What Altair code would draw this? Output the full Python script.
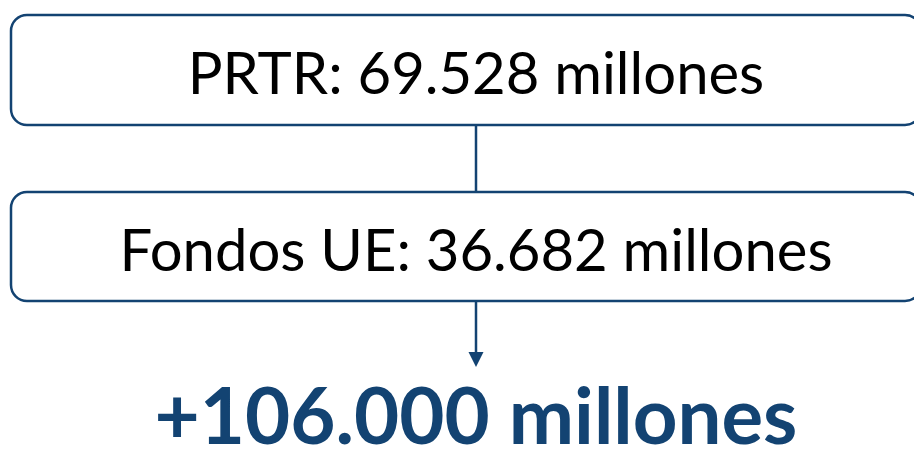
import altair as alt
import pandas as pd

# Content
box_labels = ["PRTR: 69.528 millones", "Fondos UE: 36.682 millones"]
total_label = "+106.000 millones"

# Layout (page pixel coordinates)
box_left = [11, 11]
box_right = [921, 921]
box_top = [15, 192]
box_bottom = [125, 301]
label_y = [94, 271]
center_x = 476
total_y = 444
arrow_tip_y = 359.5

BLUE = "#134372"
FONT = "Lato"

xs = alt.Scale(domain=[8, 914], nice=False, zero=False)
ys = alt.Scale(domain=[8, 447], nice=False, zero=False, reverse=True)

boxes = pd.DataFrame({
    "x": box_left, "x2": box_right, "y": box_top, "y2": box_bottom,
    "label": box_labels, "ly": label_y, "cx": [center_x] * 2,
})

connector = pd.DataFrame({"x": [center_x, center_x], "y": [box_bottom[0], box_bottom[1]],
                          "y2": [box_top[1], arrow_tip_y - 4]})
arrow = pd.DataFrame({"x": [center_x], "y": [arrow_tip_y]})
total = pd.DataFrame({"x": [center_x], "y": [total_y], "label": [total_label]})

rules = alt.Chart(connector).mark_rule(color=BLUE, strokeWidth=2.5).encode(
    x=alt.X("x:Q", scale=xs, axis=None),
    y=alt.Y("y:Q", scale=ys, axis=None),
    y2="y2:Q",
)

rects = alt.Chart(boxes).mark_rect(
    cornerRadius=16, fill="white", stroke=BLUE, strokeWidth=2.5, clip=True
).encode(
    x=alt.X("x:Q", scale=xs, axis=None), x2="x2:Q",
    y=alt.Y("y:Q", scale=ys, axis=None), y2="y2:Q",
)

labels = alt.Chart(boxes).mark_text(
    font=FONT, fontSize=58, baseline="alphabetic", align="center", color="black"
).encode(
    x=alt.X("cx:Q", scale=xs, axis=None),
    y=alt.Y("ly:Q", scale=ys, axis=None),
    text="label:N",
)

head = alt.Chart(arrow).mark_point(
    shape="M-1,-1L1,-1L0,1Z", filled=True, size=225, color=BLUE, opacity=1
).encode(
    x=alt.X("x:Q", scale=xs, axis=None),
    y=alt.Y("y:Q", scale=ys, axis=None),
)

total_text = alt.Chart(total).mark_text(
    font=FONT, fontSize=78, fontWeight="bold", baseline="alphabetic", align="center", color=BLUE
).encode(
    x=alt.X("x:Q", scale=xs, axis=None),
    y=alt.Y("y:Q", scale=ys, axis=None),
    text="label:N",
)

chart = alt.layer(rules, rects, labels, head, total_text).properties(
    width=906, height=439, padding=0, background="white"
).configure_view(stroke=None)

chart.save("out.html", embed_options={"renderer": "svg", "actions": False})
